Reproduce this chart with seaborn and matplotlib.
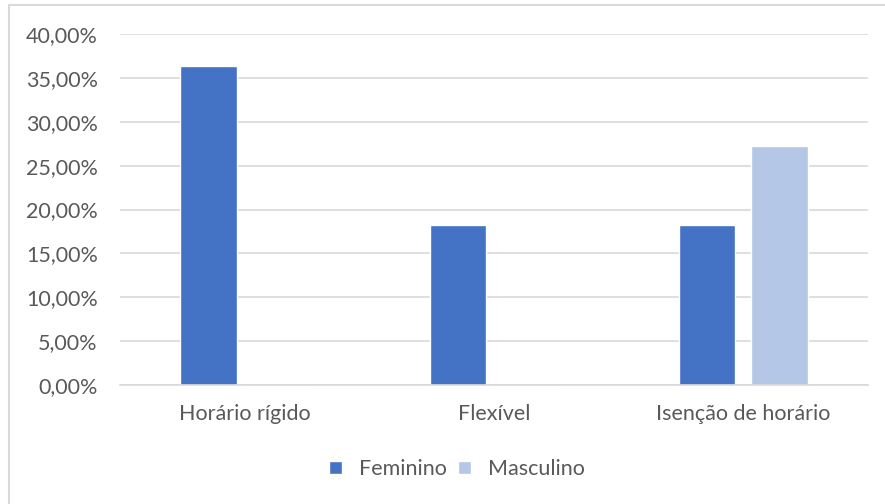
import pandas as pd
import matplotlib
matplotlib.use("Agg")
import matplotlib.pyplot as plt
from matplotlib.ticker import FuncFormatter
from matplotlib.patches import Rectangle
import seaborn as sns

categorias = ["Horário rígido", "Flexível", "Isenção de horário"]
feminino = [0.3636, 0.1818, 0.1818]
masculino = [0.0, 0.0, 0.2727]
series = ["Feminino", "Masculino"]
cores = ["#4472C4", "#B4C7E7"]

df = pd.DataFrame({
    "categoria": categorias * 2,
    "valor": feminino + masculino,
    "sexo": [series[0]] * 3 + [series[1]] * 3,
})

sns.set_style("white")
plt.rcParams["font.family"] = ["Lato", "DejaVu Sans"]
texto = "#595959"

fig = plt.figure(figsize=(8.85, 5.04), dpi=100)
ax = fig.add_axes([120 / 885, 119 / 504, 748 / 885, 351 / 504])

sns.barplot(data=df, x="categoria", y="valor", hue="sexo", order=categorias,
            hue_order=series, palette=cores, width=0.58, gap=0.22,
            saturation=1, ax=ax, legend=True)

ax.set_ylim(0, 0.40)
ax.set_xlim(-0.5, 2.5)
ax.set_yticks([i * 0.05 for i in range(9)])
ax.yaxis.set_major_formatter(FuncFormatter(lambda v, p: f"{v * 100:.2f}%".replace(".", ",")))
ax.grid(axis="y", color="#D9D9D9", linewidth=1.2)
ax.set_axisbelow(True)
for s in ["top", "right", "left"]:
    ax.spines[s].set_visible(False)
ax.spines["bottom"].set_color("#D9D9D9")
ax.spines["bottom"].set_linewidth(1.2)
ax.tick_params(axis="both", length=0, labelsize=15.5, colors=texto)
ax.tick_params(axis="y", pad=16)
ax.tick_params(axis="x", pad=14)
ax.set_xlabel("")
ax.set_ylabel("")

h, l = ax.get_legend_handles_labels()
ax.legend(h, l, loc="center", bbox_to_anchor=(457 / 885, 1 - 469 / 504),
          bbox_transform=fig.transFigure, ncol=2, frameon=False,
          handlelength=0.6, handleheight=0.6, handletextpad=0.8,
          columnspacing=0.5, fontsize=15.5, labelcolor=texto)

fig.patches.append(Rectangle((9 / 885, -0.1), 1.2, 1 - 5 / 504 + 0.1,
                             transform=fig.transFigure, fill=False,
                             edgecolor="#D9D9D9", linewidth=1.5))

fig.savefig("out.png", dpi=100)
